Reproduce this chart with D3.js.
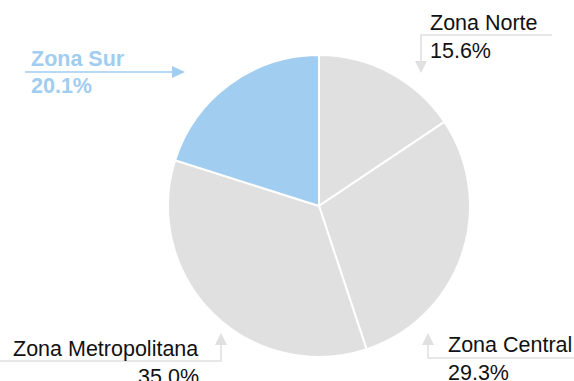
<!DOCTYPE html>
<html>
<head>
<meta charset="utf-8">
<script src="https://cdn.jsdelivr.net/npm/d3@7"></script>
<style>
  html, body { margin: 0; padding: 0; background: #fff; }
  svg { display: block; font-family: "Liberation Sans", Arial, sans-serif; }
</style>
</head>
<body>
<svg id="chart" width="574" height="381"></svg>
<script>
// Regional share of the total, clockwise from 12 o'clock
const zones = ["Zona Norte", "Zona Central", "Zona Metropolitana", "Zona Sur"];
const shares = [15.6, 29.3, 35.0, 20.1];
const highlighted = "Zona Sur";

const GREY = "#e0e0e0";
const BLUE = "#a0cdf0";
const FONT_SIZE = 21.5;

const svg = d3.select("#chart");
const cx = 319, cy = 206, radius = 151;

const pie = d3.pie().sort(null).value(d => d.value);
const arc = d3.arc().innerRadius(0).outerRadius(radius);
const data = zones.map((z, i) => ({ zone: z, value: shares[i] }));
const colour = d => d.zone === highlighted ? BLUE : GREY;

const g = svg.append("g").attr("transform", `translate(${cx},${cy})`);
g.selectAll("path")
  .data(pie(data))
  .join("path")
  .attr("d", arc)
  .attr("fill", d => colour(d.data))
  .attr("stroke", "#fff")
  .attr("stroke-width", 2);

// Callout layouts: leader polyline ending in an arrow, plus two text lines
const callouts = {
  "Zona Norte": {
    path: [[552, 35], [421, 35], [421, 62]], tip: [421, 73], dir: "down",
    x: 430, anchor: "start", y1: 30, y2: 58
  },
  "Zona Central": {
    path: [[574, 358], [428, 358], [428, 344]], tip: [428, 333], dir: "up",
    x: 448, anchor: "start", y1: 352, y2: 380
  },
  "Zona Metropolitana": {
    path: [[0, 361], [221, 361], [221, 344]], tip: [221, 333], dir: "up",
    x: 13, anchor: "start", y1: 356, y2: 384, x2: 199, anchor2: "end"
  },
  "Zona Sur": {
    path: [[25, 72], [172, 72]], tip: [185, 72], dir: "right",
    x: 31, anchor: "start", y1: 66, y2: 93
  }
};

const line = d3.line();
data.forEach(d => {
  const c = callouts[d.zone];
  const col = colour(d);
  const isHi = d.zone === highlighted;
  svg.append("path")
    .attr("d", line(c.path))
    .attr("fill", "none")
    .attr("stroke", col)
    .attr("stroke-width", 1.6);
  const [tx, ty] = c.tip;
  let head;
  if (c.dir === "down") head = [[tx, ty], [tx - 6, ty - 12], [tx + 6, ty - 12]];
  else if (c.dir === "up") head = [[tx, ty], [tx - 6, ty + 12], [tx + 6, ty + 12]];
  else head = [[tx, ty], [tx - 13, ty - 6], [tx - 13, ty + 6]];
  svg.append("path").attr("d", line(head) + "Z").attr("fill", col);

  const fill = isHi ? BLUE : "#111";
  const weight = isHi ? "bold" : "normal";
  svg.append("text")
    .attr("x", c.x).attr("y", c.y1)
    .attr("text-anchor", c.anchor)
    .attr("font-size", FONT_SIZE).attr("font-weight", weight)
    .attr("fill", fill)
    .text(d.zone);
  svg.append("text")
    .attr("x", c.x2 !== undefined ? c.x2 : c.x).attr("y", c.y2)
    .attr("text-anchor", c.anchor2 || c.anchor)
    .attr("font-size", FONT_SIZE).attr("font-weight", weight)
    .attr("fill", fill)
    .text(d.value.toFixed(1) + "%");
});
</script>
</body>
</html>
